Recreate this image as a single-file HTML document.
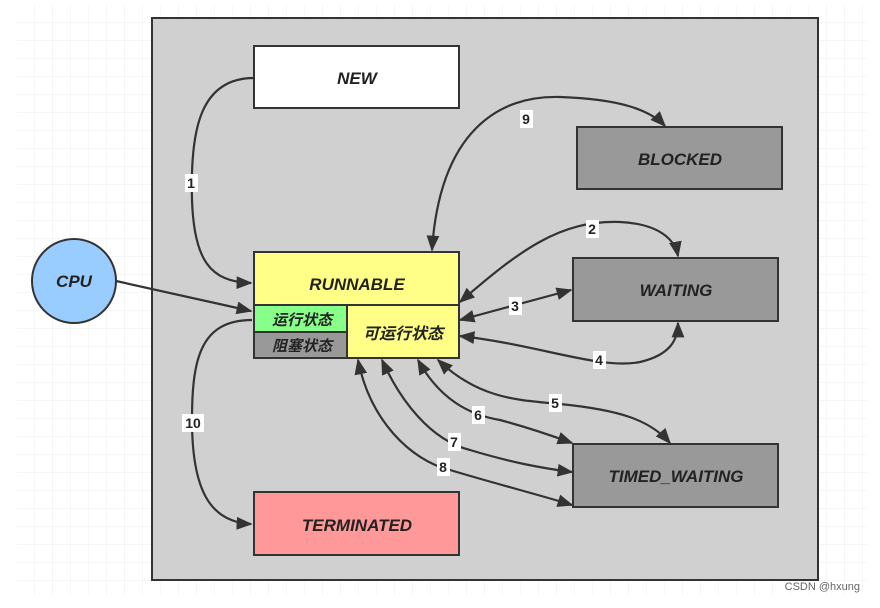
<!DOCTYPE html>
<html><head><meta charset="utf-8"><style>
body{margin:0;background:#fff;}
svg text{font-family:"Liberation Sans","Noto Sans CJK SC",sans-serif;}
</style></head><body>
<svg width="880" height="603" viewBox="0 0 880 603" xmlns="http://www.w3.org/2000/svg">
<defs>
<pattern id="g" x="17" y="5" width="18" height="18" patternUnits="userSpaceOnUse">
<path d="M18 0V18H0" fill="none" stroke="#eee" stroke-width="1"/></pattern>
<marker id="b" viewBox="0 0 10 10" refX="9" refY="5" markerWidth="16" markerHeight="16" orient="auto-start-reverse" markerUnits="userSpaceOnUse">
<path d="M0,1 L10,5 L0,9 z" fill="#333"/></marker>
</defs>
<rect x="17" y="5" width="850" height="590" fill="url(#g)"/>
<rect x="152" y="18" width="666" height="562" fill="#d0d0d0" stroke="#333" stroke-width="2"/>
<rect x="254" y="46" width="205" height="62" fill="#fff" stroke="#333" stroke-width="2"/>
<text x="357" y="84" text-anchor="middle" font-size="17" font-weight="bold" font-style="italic" fill="#222">NEW</text>
<rect x="577" y="127" width="205" height="62" fill="#999" stroke="#333" stroke-width="2"/>
<text x="680" y="165" text-anchor="middle" font-size="17" font-weight="bold" font-style="italic" fill="#222">BLOCKED</text>
<rect x="573" y="258" width="205" height="63" fill="#999" stroke="#333" stroke-width="2"/>
<text x="676" y="296" text-anchor="middle" font-size="17" font-weight="bold" font-style="italic" fill="#222">WAITING</text>
<rect x="573" y="444" width="205" height="63" fill="#999" stroke="#333" stroke-width="2"/>
<text x="676" y="482" text-anchor="middle" font-size="17" font-weight="bold" font-style="italic" fill="#222">TIMED_WAITING</text>
<rect x="254" y="492" width="205" height="63" fill="#f99" stroke="#333" stroke-width="2"/>
<text x="357" y="531" text-anchor="middle" font-size="17" font-weight="bold" font-style="italic" fill="#222">TERMINATED</text>
<rect x="254" y="252" width="205" height="106" fill="#ffff88" stroke="#333" stroke-width="2"/>
<line x1="254" y1="305" x2="459" y2="305" stroke="#333" stroke-width="2"/>
<rect x="254" y="305" width="93" height="27" fill="#88ff88" stroke="#333" stroke-width="2"/>
<rect x="254" y="332" width="93" height="26" fill="#999" stroke="#333" stroke-width="2"/>
<text x="357" y="290" text-anchor="middle" font-size="17" font-weight="bold" font-style="italic" fill="#222">RUNNABLE</text>
<text x="302" y="325" text-anchor="middle" font-size="15" font-weight="bold" font-style="italic" fill="#222">运行状态</text>
<text x="302" y="351" text-anchor="middle" font-size="15" font-weight="bold" font-style="italic" fill="#222">阻塞状态</text>
<text x="403" y="339" text-anchor="middle" font-size="16" font-weight="bold" font-style="italic" fill="#222">可运行状态</text>
<circle cx="74" cy="281" r="42" fill="#99ccff" stroke="#333" stroke-width="2"/>
<text x="74" y="287" text-anchor="middle" font-size="17" font-weight="bold" font-style="italic" fill="#222">CPU</text>
<g fill="none" stroke="#333" stroke-width="2.2">
<path d="M254,78 C200,78 190,130 192,200 C194,260 210,282 251,283" marker-end="url(#b)"/>
<path d="M116,281 L251,311" marker-end="url(#b)"/>
<path d="M432,250 C440,130 500,95 560,97 C620,99 650,110 665,126" marker-start="url(#b)" marker-end="url(#b)"/>
<path d="M460,302 C520,250 560,220 620,222 C660,224 675,240 678,256" marker-start="url(#b)" marker-end="url(#b)"/>
<path d="M460,320 L571,290" marker-start="url(#b)" marker-end="url(#b)"/>
<path d="M460,336 C540,345 600,370 640,362 C670,355 678,340 678,323" marker-start="url(#b)" marker-end="url(#b)"/>
<path d="M438,360 C480,400 520,400 560,404 C620,410 650,420 670,443" marker-start="url(#b)" marker-end="url(#b)"/>
<path d="M418,360 C440,400 470,415 500,420 C530,428 550,435 572,443" marker-start="url(#b)" marker-end="url(#b)"/>
<path d="M382,360 C400,400 430,440 470,450 C510,462 540,468 572,472" marker-start="url(#b)" marker-end="url(#b)"/>
<path d="M358,360 C370,420 410,460 450,470 C500,485 540,495 572,505" marker-start="url(#b)" marker-end="url(#b)"/>
<path d="M252,320 C200,320 192,360 192,420 C192,490 210,522 251,524" marker-end="url(#b)"/>
</g>
<g font-size="14" font-weight="bold" fill="#222" text-anchor="middle">
<rect x="185" y="174" width="13" height="18" fill="#fff"/><text x="191" y="188">1</text>
<rect x="520" y="110" width="13" height="18" fill="#fff"/><text x="526" y="124">9</text>
<rect x="586" y="220" width="13" height="18" fill="#fff"/><text x="592" y="234">2</text>
<rect x="509" y="297" width="13" height="18" fill="#fff"/><text x="515" y="311">3</text>
<rect x="593" y="351" width="13" height="18" fill="#fff"/><text x="599" y="365">4</text>
<rect x="549" y="394" width="13" height="18" fill="#fff"/><text x="555" y="408">5</text>
<rect x="472" y="406" width="13" height="18" fill="#fff"/><text x="478" y="420">6</text>
<rect x="448" y="433" width="13" height="18" fill="#fff"/><text x="454" y="447">7</text>
<rect x="437" y="458" width="13" height="18" fill="#fff"/><text x="443" y="472">8</text>
<rect x="182" y="414" width="22" height="18" fill="#fff"/><text x="193" y="428">10</text>
</g>
<text x="860" y="590" text-anchor="end" font-size="11" fill="#666">CSDN @hxung</text>
</svg>
</body></html>
